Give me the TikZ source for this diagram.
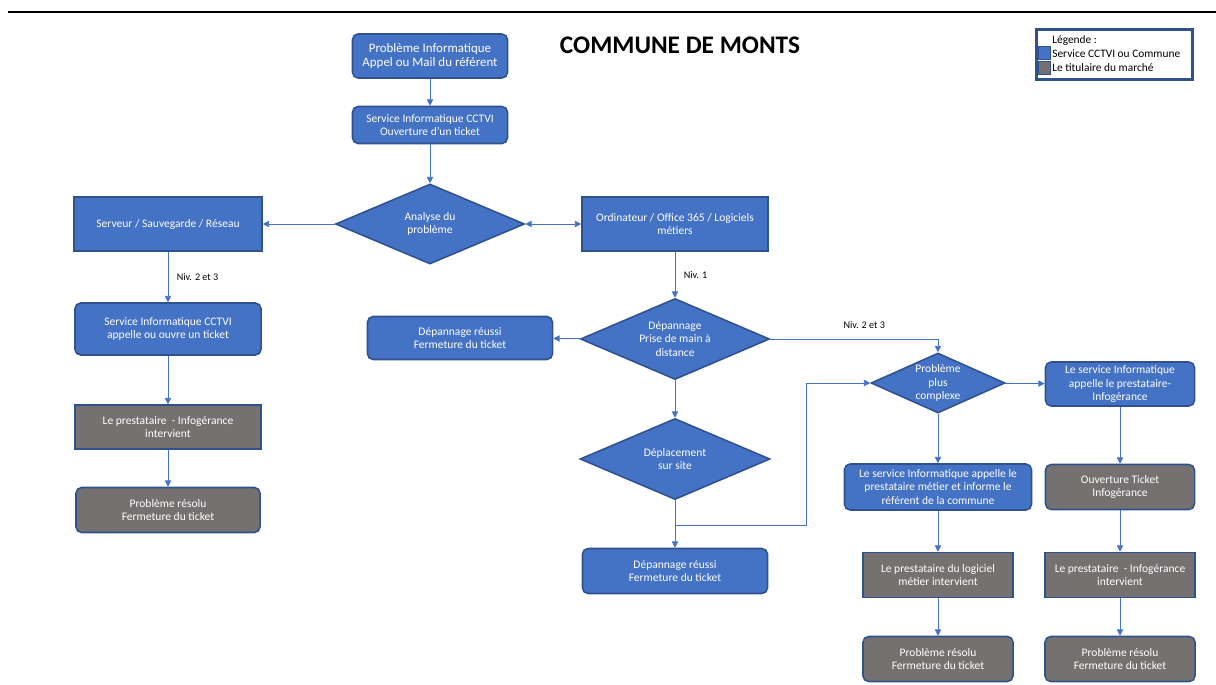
\documentclass[tikz,border=0pt]{standalone}
\usepackage{fontspec}
\setmainfont{Carlito}
\usetikzlibrary{arrows.meta,shapes.geometric}

\definecolor{cctvi}{HTML}{4472C4}
\definecolor{cctviborder}{HTML}{2F528F}
\definecolor{titulaire}{HTML}{767171}
\definecolor{flow}{HTML}{4472C4}

\tikzset{
	boxtext/.style={text=white, align=center, font=\fontsize{8.2}{9.6}\selectfont, inner sep=1pt},
	bluebox/.style={boxtext, draw=cctviborder, line width=1.1pt, fill=cctvi, rounded corners=4pt},
	bluerect/.style={boxtext, draw=cctviborder, line width=1.1pt, fill=cctvi},
	graybox/.style={boxtext, draw=cctviborder, line width=1.1pt, fill=titulaire, rounded corners=4pt},
	grayrect/.style={boxtext, draw=cctviborder, line width=1.1pt, fill=titulaire},
	decision/.style={boxtext, diamond, aspect=2.4, inner sep=0pt, draw=cctviborder, line width=1.1pt, fill=cctvi},
	flowline/.style={draw=flow, line width=0.6pt},
	niv/.style={font=\fontsize{7.2}{8}\selectfont, text=black, inner sep=1pt},
	legtext/.style={anchor=west, font=\fontsize{8.1}{9}\selectfont, inner sep=0pt}
}

\begin{document}
\begin{tikzpicture}[x=0.025cm, y=-0.025cm, >={Triangle[length=4.5pt,width=4.5pt]}]
	\useasboundingbox (0,0) rectangle (1216,684);
	\draw[line width=1pt] (8,12) -- (1216,12);
	\node[font=\fontsize{18}{20}\selectfont\bfseries] (title) at (680,45) {COMMUNE DE MONTS};

	% legende
	\node[draw=cctviborder, line width=1.5pt, minimum width=3.9cm, minimum height=1.25cm] 
		  (leg) at (1114.5,54.5) {};
	\node[fill=cctvi, draw=cctviborder, line width=0.6pt, minimum width=0.3cm, minimum height=0.33cm, inner sep=0pt] 
		  (legA) at (1044,53) {};
	\node[fill=titulaire, draw=cctviborder, line width=0.6pt, minimum width=0.3cm, minimum height=0.33cm, inner sep=0pt] 
		  (legB) at (1044,68) {};
	\node[legtext] (legT) at (1052,41) {Légende :};
	\node[legtext] (legTA) at (1052,54) {Service CCTVI ou Commune};
	\node[legtext] (legTB) at (1052,68) {Le titulaire du marché};

	% tronc commun
	\node[bluebox, font=\fontsize{9.2}{10.5}\selectfont, minimum width=3.875cm, minimum height=1.1cm] 
		  (P1) at (430,56) {Problème Informatique\\Appel ou Mail du référent};
	\node[bluebox, minimum width=3.875cm, minimum height=0.925cm] 
		  (P2) at (430,125) {Service Informatique CCTVI\\Ouverture d’un ticket};
	\node[decision, minimum width=4.725cm, minimum height=2cm] 
		  (D1) at (430,224) {Analyse du\\problème};

	% branche serveur
	\node[bluerect, minimum width=4.7cm, minimum height=1.35cm] 
		  (L1) at (168,224) {Serveur / Sauvegarde / Réseau};
	\node[bluebox, minimum width=4.65cm, minimum height=1.3cm] 
		  (L2) at (168,329) {Service Informatique CCTVI\\appelle ou ouvre un ticket};
	\node[grayrect, minimum width=4.65cm, minimum height=1.1cm] 
		  (L3) at (168,427) {Le prestataire\ \ - Infogérance\\intervient};
	\node[graybox, minimum width=4.6cm, minimum height=1.125cm] 
		  (L4) at (168,510) {Problème résolu\\Fermeture du ticket};

	% branche ordinateur
	\node[bluerect, minimum width=4.65cm, minimum height=1.35cm] 
		  (R1) at (675,224) {Ordinateur / Office 365 / Logiciels\\métiers};
	\node[decision, minimum width=4.725cm, minimum height=2.025cm] 
		  (D2) at (675,339) {Dépannage\\Prise de main à\\distance};
	\node[bluebox, minimum width=4.625cm, minimum height=1.075cm] 
		  (M1) at (460,338) {Dépannage réussi\\Fermeture du ticket};
	\node[decision, minimum width=4.75cm, minimum height=2.025cm] 
		  (D4) at (675,459) {Déplacement\\sur site};
	\node[bluebox, minimum width=4.625cm, minimum height=1.125cm] 
		  (M2) at (675,571) {Dépannage réussi\\Fermeture du ticket};
	\node[decision, minimum width=3.35cm, minimum height=1.5cm] 
		  (D3) at (938,383) {Problème\\plus\\complexe};

	% niveaux 2 et 3
	\node[bluebox, minimum width=3.725cm, minimum height=1.1cm] 
		  (R2) at (1120,384) {Le service Informatique\\appelle le prestataire-\\Infogérance};
	\node[bluebox, minimum width=4.675cm, minimum height=1.15cm] 
		  (R3) at (938,487) {Le service Informatique appelle le\\prestataire métier et informe le\\référent de la commune};
	\node[grayrect, minimum width=3.75cm, minimum height=1.125cm] 
		  (R4) at (938,575) {Le prestataire du logiciel\\métier intervient};
	\node[graybox, minimum width=3.75cm, minimum height=1.125cm] 
		  (R5) at (938,659) {Problème résolu\\Fermeture du ticket};
	\node[graybox, minimum width=3.725cm, minimum height=1.125cm] 
		  (R6) at (1120,487) {Ouverture Ticket\\Infogérance};
	\node[grayrect, minimum width=3.75cm, minimum height=1.125cm] 
		  (R7) at (1120,575) {Le prestataire\ \ - Infogérance\\intervient};
	\node[graybox, minimum width=3.75cm, minimum height=1.125cm] 
		  (R8) at (1120,659) {Problème résolu\\Fermeture du ticket};

	\coordinate (br) at (675,525);
	\coordinate (bend) at (806,525);

	\draw[flowline,->]  (P1) -- (P2);
	\draw[flowline,->]  (P2) -- (D1);
	\draw[flowline,->]  (D1) -- (L1);
	\draw[flowline,<->] (D1) -- (R1);
	\draw[flowline,->]  (L1) -- node[niv,right=5pt]{Niv. 2 et 3} (L2);
	\draw[flowline,->]  (L2) -- (L3);
	\draw[flowline,->]  (L3) -- (L4);
	\draw[flowline,->]  (R1) -- node[niv,right=5pt]{Niv. 1} (D2);
	\draw[flowline,->]  (D2) -- (M1);
	\draw[flowline,->]  (D2.east) -| node[niv,pos=0.28,above=6pt]{Niv. 2 et 3} (D3.north);
	\draw[flowline,->]  (D2) -- (D4);
	\draw[flowline,->]  (D4) -- (M2);
	\draw[flowline,->]  (br) -- (bend) |- (D3.west);
	\draw[flowline,->]  (D3) -- (R2);
	\draw[flowline,->]  (D3) -- (R3);
	\draw[flowline,->]  (R3) -- (R4);
	\draw[flowline,->]  (R4) -- (R5);
	\draw[flowline,->]  (R2) -- (R6);
	\draw[flowline,->]  (R6) -- (R7);
	\draw[flowline,->]  (R7) -- (R8);
\end{tikzpicture}
\end{document}
